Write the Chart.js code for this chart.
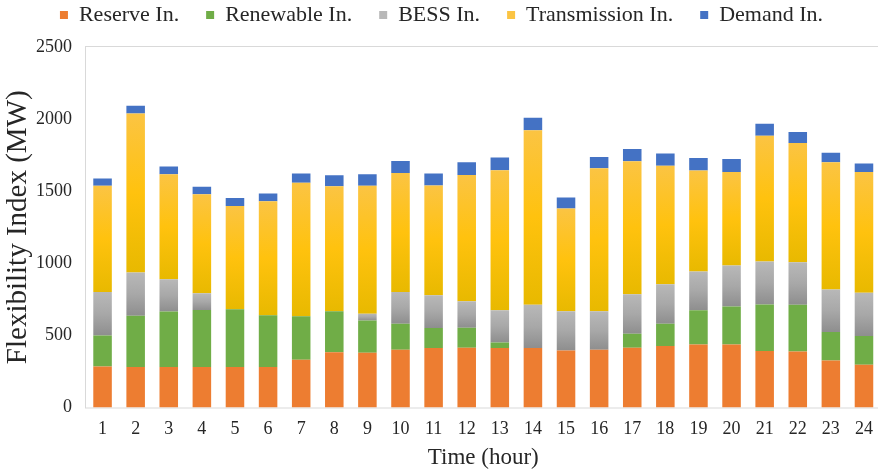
<!DOCTYPE html>
<html>
<head>
<meta charset="utf-8">
<script src="https://cdn.jsdelivr.net/npm/chart.js@4/dist/chart.umd.min.js"></script>
<style>
  html, body { margin: 0; padding: 0; background: #fff; overflow: hidden; }
  #wrap { width: 884px; height: 473px; }
</style>
</head>
<body>
<div id="wrap"><canvas id="chart"></canvas></div>
<script>
const hours = ['1','2','3','4','5','6','7','8','9','10','11','12','13','14','15','16','17','18','19','20','21','22','23','24'];
const reserve = [285,280,280,280,280,280,331,384,380,401,412,415,412,412,396,401,415,426,437,437,391,389,326,297];
const renewable = [215,357,385,396,401,359,301,283,224,180,139,138,39,0,0,0,97,155,237,264,324,324,197,198];
const bess = [301,300,224,116,0,0,0,0,47,220,227,183,223,301,271,266,273,273,270,283,297,294,296,301];
const transmission = [736,1102,729,687,717,791,926,868,886,826,761,877,972,1210,713,993,923,822,700,650,872,828,882,838];
const demand = [51,53,53,51,55,54,65,76,81,83,84,88,88,86,76,78,84,86,87,90,83,75,65,58];

const FONT = "'Liberation Serif', 'Times New Roman', serif";
const TEXT = '#262626';

// vertical gradient across one stacked segment (light on top, darker at the bottom)
function segFill(stops, fallback) {
  return (ctx) => {
    const c = ctx.chart;
    if (ctx.type !== 'data' || !c.chartArea) return fallback;
    const y = c.scales.y;
    let start = 0;
    for (let k = 0; k < ctx.datasetIndex; k++) start += c.data.datasets[k].data[ctx.dataIndex];
    const v = c.data.datasets[ctx.datasetIndex].data[ctx.dataIndex];
    const top = y.getPixelForValue(start + v);
    const bot = y.getPixelForValue(start);
    if (bot - top < 1) return fallback;
    const g = c.ctx.createLinearGradient(0, top, 0, bot);
    stops.forEach(s => g.addColorStop(s[0], s[1]));
    return g;
  };
}

const plotBorder = {
  id: 'plotBorder',
  afterInit(chart) {
    // extra room between legend and plot
    const lg = chart.legend;
    if (lg) {
      const fit = lg.fit;
      lg.fit = function () { fit.call(this); this.height += 11; };
    }
  },
  beforeDatasetsDraw(chart) {
    const { ctx, chartArea: a } = chart;
    ctx.save();
    ctx.strokeStyle = '#d9d9d9';
    ctx.lineWidth = 1;
    ctx.strokeRect(Math.round(a.left) - 0.5, Math.round(a.top) - 0.5, a.right - a.left, a.bottom - a.top + 1);
    ctx.restore();
  }
};

new Chart(document.getElementById('chart'), {
  type: 'bar',
  data: {
    labels: hours,
    datasets: [
      { label: 'Reserve In.', data: reserve, backgroundColor: '#ED7D31' },
      { label: 'Renewable In.', data: renewable, backgroundColor: '#70AD47' },
      { label: 'BESS In.', data: bess,
        backgroundColor: segFill([[0, '#B8B8B8'], [0.5, '#A8A8A8'], [1, '#8E8E8E']], '#A5A5A5') },
      { label: 'Transmission In.', data: transmission,
        backgroundColor: segFill([[0, '#FBC443'], [0.5, '#FFC20E'], [1, '#E8B900']], '#FFC000') },
      { label: 'Demand In.', data: demand, backgroundColor: '#4472C4' }
    ]
  },
  options: {
    responsive: true,
    maintainAspectRatio: false,
    animation: false,
    categoryPercentage: 1,
    barPercentage: 0.56,
    layout: { padding: { top: -23, right: 1, bottom: 0, left: 0 } },
    plugins: {
      legend: {
        position: 'top',
        labels: {
          boxWidth: 8, boxHeight: 8, padding: 27, color: TEXT,
          font: { family: FONT, size: 22 }
        }
      },
      tooltip: { enabled: false }
    },
    scales: {
      x: {
        stacked: true,
        grid: { display: false, drawTicks: false },
        border: { display: false },
        ticks: { color: TEXT, font: { family: FONT, size: 18 }, padding: 11, maxRotation: 0 },
        title: { display: true, text: 'Time (hour)', color: TEXT, font: { family: FONT, size: 23 }, padding: { top: 1, bottom: 1 } },
        afterFit(scale) { scale.height = 65.5; }
      },
      y: {
        stacked: true,
        min: 0, max: 2500,
        grid: { display: false, drawTicks: false },
        border: { display: false },
        ticks: { stepSize: 500, color: TEXT, font: { family: FONT, size: 18 }, padding: 14,
                 callback: (v) => String(v) },
        title: { display: true, text: 'Flexibility Index (MW)', color: TEXT, font: { family: FONT, size: 29 }, padding: { top: 1, bottom: 0 } },
        afterFit(scale) { scale.width = 86; }
      }
    }
  },
  plugins: [plotBorder]
});
</script>
</body>
</html>
